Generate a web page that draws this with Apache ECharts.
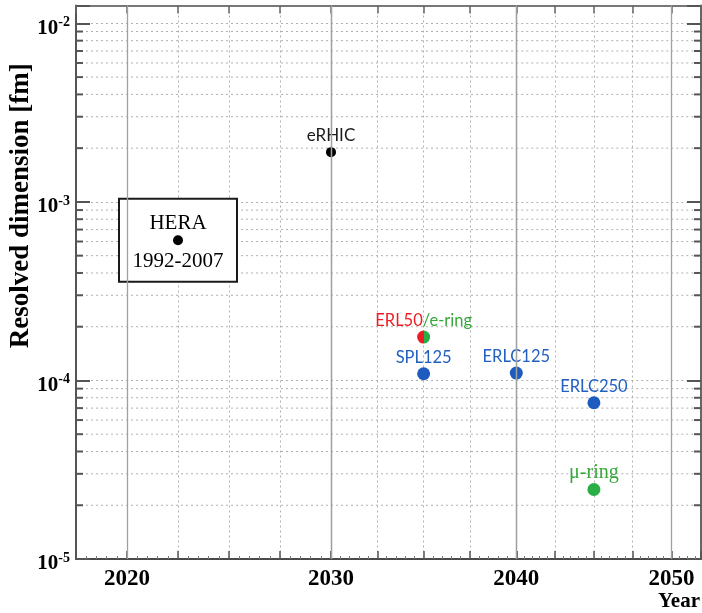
<!DOCTYPE html>
<html><head><meta charset="utf-8">
<script src="https://cdn.jsdelivr.net/npm/echarts@6/dist/echarts.min.js"></script>
<style>html,body{margin:0;padding:0;background:#fff}#c{width:702px;height:613px}</style>
</head><body><div id="c"></div>
<script>
// ---------------- data ----------------
const facilities = ['HERA', 'eRHIC', 'ERL50/e-ring', 'SPL125', 'ERLC125', 'ERLC250', 'μ-ring'];
const years = [2022.5, 2030, 2035, 2035, 2040, 2045, 2045];
const resolvedDim = [6.1e-4, 1.9e-3, 1.75e-4, 1.09e-4, 1.1e-4, 7.5e-5, 2.45e-5];
const heraPeriod = '1992-2007';
const xTickLabels = [2020, 2030, 2040, 2050];
const decadeYears = [2020, 2030, 2040, 2050];
const yTickExponents = [-5, -4, -3, -2];
const yMinorTicks = [
  2e-5, 3e-5, 4e-5, 5e-5, 6e-5, 7e-5, 8e-5, 9e-5,
  2e-4, 3e-4, 4e-4, 5e-4, 6e-4, 7e-4, 8e-4, 9e-4,
  2e-3, 3e-3, 4e-3, 5e-3, 6e-3, 7e-3, 8e-3, 9e-3
];
const yMin = 1e-5, yMax = 0.01259;

// ---------------- layout / style ----------------
// the year axis of the original is drawn in three linear pieces
const segments = [[2017.5, 2030], [2030, 2040], [2040, 2051.9]];
const gridLayout = [
  { left: 76, width: 255 },
  { left: 331, width: 185.3 },
  { left: 516.3, right: 1 }
];
const SERIF = '"Liberation Serif","Times New Roman",serif';
const SANS = 'Lato,"Open Sans",sans-serif';
const RED = '#ee1c24', GREEN = '#2aae46', BLUE = '#1d5bbf', BLUE_T = '#2160c0', GREEN_T = '#36a83a';
const DOT_COLOR = '#b0b0b0';

const pointStyle = {
  'HERA': { color: '#000', size: 10, label: { show: false } },
  'eRHIC': { color: '#000', size: 10, label: { show: true, position: 'top', distance: 3, color: '#1a1a1a', fontFamily: SANS, fontSize: 17 } },
  'ERL50/e-ring': {
    color: { type: 'linear', x: 0, y: 0, x2: 1, y2: 0, colorStops: [
      { offset: 0, color: RED }, { offset: 0.5, color: RED }, { offset: 0.5, color: GREEN }, { offset: 1, color: GREEN }] },
    size: 13,
    label: { show: true, position: 'top', distance: 1, formatter: '{r|ERL50}{g|/e-ring}',
      rich: { r: { color: RED, fontFamily: SANS, fontSize: 16.5 }, g: { color: GREEN_T, fontFamily: SANS, fontSize: 16.5 } } }
  },
  'SPL125': { color: BLUE, size: 13, label: { show: true, position: 'top', distance: 1, color: BLUE_T, fontFamily: SANS, fontSize: 16.5 } },
  'ERLC125': { color: BLUE, size: 13, label: { show: true, position: 'top', distance: 1, color: BLUE_T, fontFamily: SANS, fontSize: 16.5 } },
  'ERLC250': { color: BLUE, size: 13, label: { show: true, position: 'top', distance: 1, color: BLUE_T, fontFamily: SANS, fontSize: 16.5 } },
  'μ-ring': { color: GREEN, size: 13, label: { show: true, position: 'top', distance: 0, color: GREEN_T, fontFamily: SERIF, fontSize: 20 } }
};

const segOf = y => segments.findIndex(([a, b]) => y >= a && y <= b);

// ---------------- build option ----------------
const grids = gridLayout.map(g => Object.assign({ top: 5.5, bottom: 54, containLabel: false, outerBoundsMode: 'none' }, g));

const xAxes = [];
segments.forEach((s, i) => {
  const ax = {
    type: 'value', gridIndex: i, min: s[0], max: s[1], interval: 2.5, position: 'bottom',
    axisLine: { show: true, onZero: false, lineStyle: { color: '#4a4a4a', width: 2 } },
    axisTick: { show: true, inside: true, length: 8, lineStyle: { color: '#555', width: 1.5 } },
    minorTick: { show: true, splitNumber: 5, length: 3, lineStyle: { color: '#777', width: 1 } },
    axisLabel: {
      show: true, margin: 9, fontFamily: SERIF, fontWeight: 'bold', fontSize: 23, color: '#000',
      showMinLabel: i === 0, showMaxLabel: true,
      formatter: v => (xTickLabels.indexOf(v) >= 0 ? String(v) : '')
    },
    splitLine: { show: true, lineStyle: { color: DOT_COLOR, type: [2, 3], width: 1 } }
  };
  if (i === segments.length - 1) {
    ax.name = 'Year';
    ax.nameLocation = 'end';
    ax.nameGap = -1;
    ax.nameMoveOverlap = false;
    ax.nameTextStyle = { fontFamily: SERIF, fontWeight: 'bold', fontSize: 21, color: '#000', align: 'right', verticalAlign: 'top', padding: [32, 0, 0, 0] };
  }
  xAxes.push(ax);
});
segments.forEach((s, i) => {
  xAxes.push({
    type: 'value', gridIndex: i, min: s[0], max: s[1], interval: 2.5, position: 'top',
    axisLine: { show: true, onZero: false, lineStyle: { color: '#777', width: 2 } },
    axisTick: { show: true, inside: true, length: 8, lineStyle: { color: '#666', width: 1.5 } },
    axisLabel: { show: false }, splitLine: { show: false }
  });
});

const ySplit = { show: true, lineStyle: { color: DOT_COLOR, type: [2, 3], width: 1 } };
const yAxes = [
  {
    type: 'log', gridIndex: 0, min: yMin, max: yMax, position: 'left',
    axisLine: { show: true, onZero: false, lineStyle: { color: '#555', width: 2 } },
    axisTick: { show: true, inside: true, length: 14, lineStyle: { color: '#555', width: 2 } },
    axisLabel: {
      show: true, margin: 6, padding: [10, 0, 0, 0],
      formatter: v => {
        const e = Math.log10(v), r = Math.round(e);
        if (Math.abs(e - r) > 1e-6 || yTickExponents.indexOf(r) < 0) return '';
        return '{b|10}{s|' + r + '}';
      },
      rich: {
        b: { fontFamily: SERIF, fontWeight: 'bold', fontSize: 21, color: '#000', lineHeight: 26 },
        s: { fontFamily: SERIF, fontWeight: 'bold', fontSize: 14, color: '#000', lineHeight: 14, verticalAlign: 'top' }
      }
    },
    splitLine: ySplit,
    name: 'Resolved dimension [fm]', nameLocation: 'middle', nameGap: 41, nameMoveOverlap: false,
    nameTextStyle: { fontFamily: SERIF, fontWeight: 'bold', fontSize: 27, color: '#000', padding: [0, 0, 0, 153] }
  },
  {
    type: 'log', gridIndex: 1, min: yMin, max: yMax,
    axisLine: { show: false }, axisTick: { show: false }, axisLabel: { show: false }, splitLine: ySplit
  },
  {
    type: 'log', gridIndex: 2, min: yMin, max: yMax, position: 'right',
    axisLine: { show: true, onZero: false, lineStyle: { color: '#666', width: 2 } },
    axisTick: { show: true, inside: true, length: 14, lineStyle: { color: '#555', width: 2 } },
    axisLabel: { show: false }, splitLine: ySplit
  }
];

const series = [];
// horizontal minor log grid lines (dotted) through the y scale
const hLineRender = (params, api) => {
  const cs = params.coordSys;
  const y = api.coord([api.value(0), api.value(1)])[1];
  return { type: 'line', shape: { x1: cs.x, y1: y, x2: cs.x + cs.width, y2: y },
    style: { stroke: DOT_COLOR, lineWidth: 1, lineDash: [2, 3] } };
};
segments.forEach((s, i) => {
  series.push({ type: 'custom', xAxisIndex: i, yAxisIndex: i, z: 1, silent: true,
    data: yMinorTicks.map(v => [s[0], v]), renderItem: hLineRender });
  // decade year lines (solid)
  series.push({
    type: 'scatter', xAxisIndex: i, yAxisIndex: i, data: [], z: 1, silent: true,
    markLine: { silent: true, symbol: ['none', 'none'], label: { show: false }, animation: false,
      data: decadeYears.filter(y => y >= s[0] && y <= s[1]).map(y => ({ xAxis: y })),
      lineStyle: { color: '#a0a0a0', type: 'solid', width: 1.3 } }
  });
});
// minor ticks on left and right frame
const tickRender = side => (params, api) => {
  const cs = params.coordSys;
  const y = api.coord([api.value(0), api.value(1)])[1];
  const x1 = side === 'left' ? cs.x : cs.x + cs.width;
  const x2 = side === 'left' ? cs.x + 7 : cs.x + cs.width - 7;
  return { type: 'line', shape: { x1: x1, y1: y, x2: x2, y2: y }, style: { stroke: '#555', lineWidth: 2 } };
};
series.push({ type: 'custom', xAxisIndex: 0, yAxisIndex: 0, z: 4, silent: true,
  data: yMinorTicks.map(v => [segments[0][0], v]), renderItem: tickRender('left') });
series.push({ type: 'custom', xAxisIndex: 2, yAxisIndex: 2, z: 4, silent: true,
  data: yMinorTicks.map(v => [segments[2][0], v]), renderItem: tickRender('right') });

// HERA box label
const hi = facilities.indexOf('HERA');
series.push({
  type: 'scatter', xAxisIndex: segOf(years[hi]), yAxisIndex: segOf(years[hi]), z: 2, silent: true,
  symbolSize: 1, itemStyle: { color: 'rgba(0,0,0,0)', opacity: 1 },
  data: [{
    value: [years[hi], resolvedDim[hi]],
    label: {
      show: true, position: 'inside', opacity: 1, formatter: '{t|' + facilities[hi] + '}\n{g| }\n{d|' + heraPeriod + '}',
      backgroundColor: '#fff', borderColor: '#1a1a1a', borderWidth: 2, padding: [9, 0, 4, 0], width: 116, align: 'center',
      textBorderWidth: 0, color: '#000',
      rich: {
        t: { fontFamily: SERIF, fontSize: 21, lineHeight: 30, color: '#000', align: 'center' },
        g: { fontSize: 6, lineHeight: 8, align: 'center' },
        d: { fontFamily: SERIF, fontSize: 21, lineHeight: 30, color: '#000', align: 'center' }
      }
    }
  }]
});

// the facility points
segments.forEach((s, gi) => {
  const data = [];
  facilities.forEach((f, k) => {
    if (segOf(years[k]) !== gi) return;
    const st = pointStyle[f];
    data.push({ name: f, value: [years[k], resolvedDim[k]], symbolSize: st.size, itemStyle: { color: st.color, opacity: 1 }, label: st.label });
  });
  series.push({ type: 'scatter', xAxisIndex: gi, yAxisIndex: gi, z: 3, symbol: 'circle', data: data,
    itemStyle: { opacity: 1 }, label: { formatter: '{b}' } });
});

const chart = echarts.init(document.getElementById('c'), null, { renderer: 'canvas' });
chart.setOption({ animation: false, backgroundColor: '#fff', grid: grids, xAxis: xAxes, yAxis: yAxes, series: series });
</script></body></html>
